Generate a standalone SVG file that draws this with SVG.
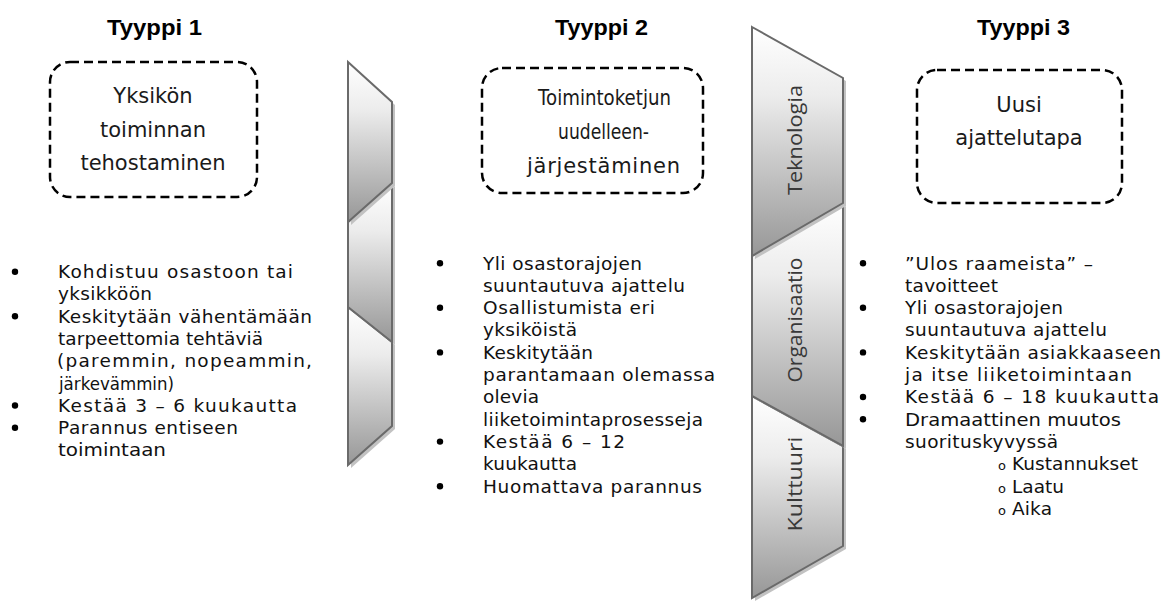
<svg xmlns="http://www.w3.org/2000/svg" width="1165" height="606" viewBox="0 0 1165 606">
<style>
.t{font-family:"DejaVu Sans",sans-serif;font-size:18.5px;fill:#111}
.bx{font-family:"DejaVu Sans",sans-serif;font-size:21px;fill:#1a1a1a}
.bxm{font-family:"DejaVu Sans",sans-serif;font-size:21px;fill:#1a1a1a;text-anchor:middle}
.ttl{font-family:"Liberation Sans",Arial,sans-serif;font-weight:bold;font-size:22px;fill:#000}
.lab{font-family:"Open Sans","DejaVu Sans",sans-serif;font-size:20px;fill:#383838;text-anchor:middle}
.sub{font-family:"DejaVu Sans",sans-serif;font-size:13px;fill:#111}
.box{fill:#fff;stroke:#000;stroke-width:2.5;stroke-dasharray:9 5}
.seg{stroke:#6a6a6a;stroke-width:2;stroke-linejoin:miter;fill:url(#g)}
.sh{fill:#c2c2c2}
.dot{fill:#000}
</style>
<defs>
<linearGradient id="g" x1="0" y1="0" x2="0" y2="1">
<stop offset="0" stop-color="#ffffff"/>
<stop offset="0.3" stop-color="#ececec"/>
<stop offset="1" stop-color="#979797"/>
</linearGradient>
</defs>

<g id="title1"><text class="ttl" x="107" y="35" textLength="95" lengthAdjust="spacingAndGlyphs">Tyyppi 1</text></g>
<g id="title2"><text class="ttl" x="555" y="35" textLength="93" lengthAdjust="spacingAndGlyphs">Tyyppi 2</text></g>
<g id="title3"><text class="ttl" x="977" y="35" textLength="93" lengthAdjust="spacingAndGlyphs">Tyyppi 3</text></g>

<g id="box1">
<rect class="box" x="50" y="62" width="207" height="135" rx="20"/>
<text class="bxm" x="153" y="103">Yksikön</text>
<text class="bxm" x="153" y="137">toiminnan</text>
<text class="bxm" x="153" y="170">tehostaminen</text>
</g>
<g id="box2">
<rect class="box" x="482" y="68" width="221" height="125" rx="20"/>
<text class="bx" x="538" y="105" textLength="133" lengthAdjust="spacingAndGlyphs">Toimintoketjun</text>
<text class="bx" x="558" y="139" textLength="91" lengthAdjust="spacingAndGlyphs">uudelleen-</text>
<text class="bx" x="527" y="173" textLength="153" lengthAdjust="spacing">järjestäminen</text>
</g>
<g id="box3">
<rect class="box" x="917" y="70" width="205" height="133" rx="20"/>
<text class="bxm" x="1019" y="112">Uusi</text>
<text class="bxm" x="1019" y="145">ajattelutapa</text>
</g>

<g id="strip-left">
<polygon class="sh" points="351,310 395,345 395,429 351,468"/>
<polygon class="seg" points="348,307 392,342 392,426 348,465"/>
<polygon class="sh" points="351,225 395,186 395,345 351,310"/>
<polygon class="seg" points="348,222 392,183 392,342 348,307"/>
<polygon class="sh" points="351,65 395,105 395,186 351,225"/>
<polygon class="seg" points="348,62 392,102 392,183 348,222"/>
</g>

<g id="strip-right">
<polygon class="sh" points="755,399 846,449 846,549 755,601"/>
<polygon class="seg" points="752,396 843,446 843,546 752,598"/>
<polygon class="sh" points="755,259 846,206 846,449 755,399"/>
<polygon class="seg" points="752,256 843,203 843,446 752,396"/>
<polygon class="sh" points="755,30 846,81 846,206 755,259"/>
<polygon class="seg" points="752,27 843,78 843,203 752,256"/>
<text class="lab" transform="translate(795,140) rotate(-90)" x="0" y="7" textLength="110" lengthAdjust="spacingAndGlyphs">Teknologia</text>
<text class="lab" transform="translate(795,320) rotate(-90)" x="0" y="7" textLength="125" lengthAdjust="spacingAndGlyphs">Organisaatio</text>
<text class="lab" transform="translate(795,484) rotate(-90)" x="0" y="7" textLength="95" lengthAdjust="spacingAndGlyphs">Kulttuuri</text>
</g>

<g id="list1">
<circle class="dot" cx="15" cy="271.7" r="3.2"/>
<circle class="dot" cx="15" cy="316.3" r="3.2"/>
<circle class="dot" cx="15" cy="405.5" r="3.2"/>
<circle class="dot" cx="15" cy="427.8" r="3.2"/>
<text class="t" x="58" y="278" textLength="235" lengthAdjust="spacing">Kohdistuu osastoon tai</text>
<text class="t" x="58" y="300.3" textLength="94" lengthAdjust="spacing">yksikköön</text>
<text class="t" x="58" y="322.6" textLength="254" lengthAdjust="spacing">Keskitytään vähentämään</text>
<text class="t" x="58" y="344.9" textLength="205" lengthAdjust="spacing">tarpeettomia tehtäviä</text>
<text class="t" x="57" y="367.2" textLength="255" lengthAdjust="spacing">(paremmin, nopeammin,</text>
<text class="t" x="59" y="389.5" textLength="115" lengthAdjust="spacingAndGlyphs">järkevämmin)</text>
<text class="t" x="58" y="411.8" textLength="239" lengthAdjust="spacing">Kestää 3 – 6 kuukautta</text>
<text class="t" x="58" y="434.1" textLength="180" lengthAdjust="spacing">Parannus entiseen</text>
<text class="t" x="58" y="456.4" textLength="108" lengthAdjust="spacingAndGlyphs">toimintaan</text>
</g>

<g id="list2">
<circle class="dot" cx="440" cy="263.2" r="3.2"/>
<circle class="dot" cx="440" cy="307.8" r="3.2"/>
<circle class="dot" cx="440" cy="352.4" r="3.2"/>
<circle class="dot" cx="440" cy="441.6" r="3.2"/>
<circle class="dot" cx="440" cy="486.2" r="3.2"/>
<text class="t" x="483" y="269.5" textLength="159" lengthAdjust="spacing">Yli osastorajojen</text>
<text class="t" x="483" y="291.8" textLength="202" lengthAdjust="spacing">suuntautuva ajattelu</text>
<text class="t" x="483" y="314.1" textLength="172" lengthAdjust="spacing">Osallistumista eri</text>
<text class="t" x="483" y="336.4" textLength="94" lengthAdjust="spacing">yksiköistä</text>
<text class="t" x="483" y="358.7" textLength="110" lengthAdjust="spacing">Keskitytään</text>
<text class="t" x="483" y="381" textLength="232" lengthAdjust="spacing">parantamaan olemassa</text>
<text class="t" x="483" y="403.3" textLength="56" lengthAdjust="spacing">olevia</text>
<text class="t" x="483" y="425.6" textLength="220" lengthAdjust="spacing">liiketoimintaprosesseja</text>
<text class="t" x="483" y="447.9" textLength="142" lengthAdjust="spacing">Kestää 6 – 12</text>
<text class="t" x="483" y="470.2" textLength="94" lengthAdjust="spacing">kuukautta</text>
<text class="t" x="483" y="492.5" textLength="219" lengthAdjust="spacing">Huomattava parannus</text>
</g>

<g id="list3">
<circle class="dot" cx="863" cy="263.2" r="3.2"/>
<circle class="dot" cx="863" cy="307.8" r="3.2"/>
<circle class="dot" cx="863" cy="352.4" r="3.2"/>
<circle class="dot" cx="863" cy="397" r="3.2"/>
<circle class="dot" cx="863" cy="419.3" r="3.2"/>
<text class="t" x="905" y="269.5" textLength="188" lengthAdjust="spacing">”Ulos raameista” –</text>
<text class="t" x="905" y="291.8" textLength="93" lengthAdjust="spacing">tavoitteet</text>
<text class="t" x="905" y="314.1" textLength="158" lengthAdjust="spacing">Yli osastorajojen</text>
<text class="t" x="905" y="336.4" textLength="202" lengthAdjust="spacing">suuntautuva ajattelu</text>
<text class="t" x="905" y="358.7" textLength="256" lengthAdjust="spacing">Keskitytään asiakkaaseen</text>
<text class="t" x="905" y="381" textLength="227" lengthAdjust="spacing">ja itse liiketoimintaan</text>
<text class="t" x="905" y="403.3" textLength="254" lengthAdjust="spacing">Kestää 6 – 18 kuukautta</text>
<text class="t" x="905" y="425.6" textLength="216" lengthAdjust="spacingAndGlyphs">Dramaattinen muutos</text>
<text class="t" x="905" y="447.9" textLength="153" lengthAdjust="spacing">suorituskyvyssä</text>
<text class="sub" x="998" y="470.2">o</text>
<text class="t" x="1012" y="470.2" textLength="126" lengthAdjust="spacing">Kustannukset</text>
<text class="sub" x="998" y="492.5">o</text>
<text class="t" x="1012" y="492.5" textLength="52" lengthAdjust="spacing">Laatu</text>
<text class="sub" x="998" y="514.8">o</text>
<text class="t" x="1012" y="514.8" textLength="40" lengthAdjust="spacing">Aika</text>
</g>
</svg>
